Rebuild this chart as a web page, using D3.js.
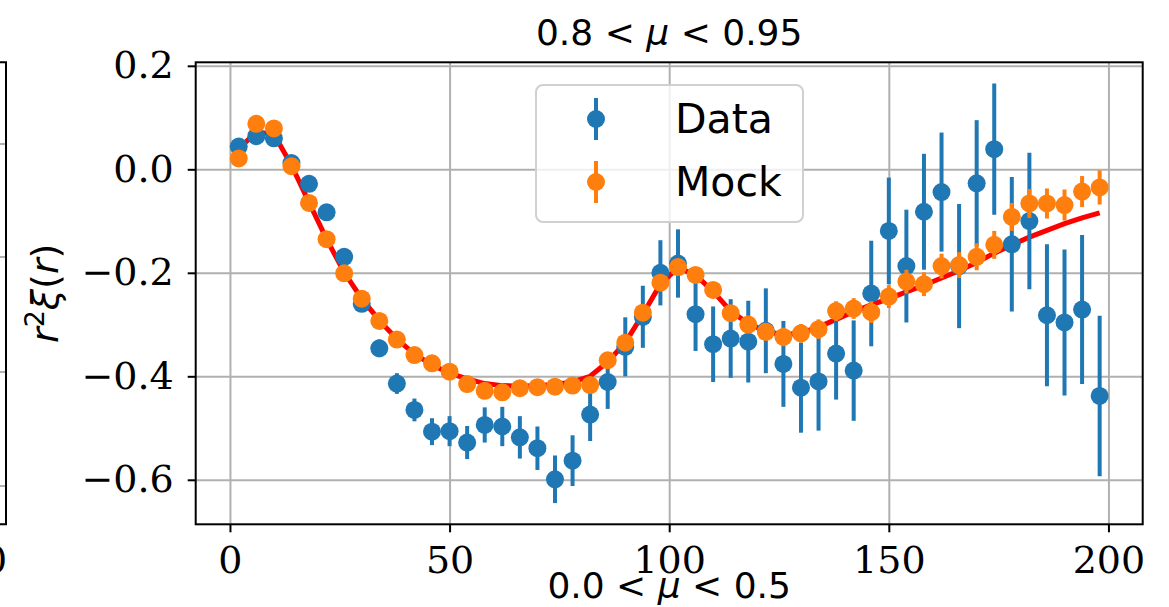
<!DOCTYPE html>
<html>
<head>
<meta charset="utf-8">
<script src="https://cdn.jsdelivr.net/npm/d3@7"></script>
<style>
  body { margin: 0; background: #fff; }
  svg { display: block; }
</style>
</head>
<body>
<svg id="chart" width="1169" height="607"></svg>
<script>
// bin centres r (Mpc/h)
const rBins = [2, 6, 10, 14, 18, 22, 26, 30, 34, 38, 42, 46, 50, 54, 58, 62, 66, 70, 74, 78,
  82, 86, 90, 94, 98, 102, 106, 110, 114, 118, 122, 126, 130, 134, 138, 142, 146, 150, 154, 158,
  162, 166, 170, 174, 178, 182, 186, 190, 194, 198];

const dataY = [0.044, 0.064, 0.060, 0.012, -0.028, -0.083, -0.169, -0.260, -0.346, -0.414,
  -0.465, -0.507, -0.506, -0.528, -0.494, -0.497, -0.518, -0.539, -0.599, -0.563,
  -0.474, -0.411, -0.343, -0.285, -0.200, -0.182, -0.280, -0.338, -0.327, -0.333,
  -0.312, -0.376, -0.422, -0.410, -0.356, -0.389, -0.240, -0.119, -0.187, -0.082,
  -0.044, -0.187, -0.027, 0.039, -0.145, -0.100, -0.282, -0.296, -0.271, -0.438];

const dataErr = [0.008, 0.008, 0.009, 0.010, 0.011, 0.012, 0.013, 0.015, 0.017, 0.020,
  0.022, 0.026, 0.029, 0.032, 0.034, 0.038, 0.041, 0.042, 0.046, 0.049,
  0.051, 0.052, 0.057, 0.060, 0.063, 0.066, 0.071, 0.073, 0.076, 0.079,
  0.082, 0.083, 0.087, 0.095, 0.089, 0.097, 0.102, 0.103, 0.109, 0.112,
  0.115, 0.120, 0.122, 0.127, 0.130, 0.132, 0.137, 0.141, 0.144, 0.155];

const mockY = [0.021, 0.088, 0.079, 0.006, -0.065, -0.135, -0.201, -0.250, -0.293, -0.329,
  -0.359, -0.375, -0.391, -0.415, -0.428, -0.431, -0.423, -0.421, -0.420, -0.418,
  -0.417, -0.369, -0.335, -0.277, -0.219, -0.189, -0.204, -0.233, -0.278, -0.300,
  -0.314, -0.324, -0.317, -0.309, -0.274, -0.269, -0.276, -0.246, -0.217, -0.222,
  -0.187, -0.185, -0.169, -0.146, -0.092, -0.066, -0.066, -0.069, -0.043, -0.035];

const mockErr = [0.002, 0.002, 0.002, 0.002, 0.002, 0.003, 0.003, 0.003, 0.004, 0.004,
  0.005, 0.005, 0.006, 0.007, 0.007, 0.008, 0.008, 0.009, 0.010, 0.010,
  0.011, 0.011, 0.012, 0.012, 0.013, 0.014, 0.015, 0.015, 0.016, 0.017,
  0.017, 0.018, 0.018, 0.019, 0.019, 0.020, 0.021, 0.022, 0.023, 0.023,
  0.024, 0.025, 0.026, 0.027, 0.027, 0.028, 0.029, 0.030, 0.030, 0.033];

const modelY = [0.040, 0.072, 0.068, 0.008, -0.064, -0.135, -0.199, -0.250, -0.292, -0.328,
  -0.357, -0.378, -0.394, -0.405, -0.414, -0.418, -0.419, -0.418, -0.416, -0.411,
  -0.400, -0.372, -0.335, -0.280, -0.222, -0.190, -0.204, -0.236, -0.274, -0.298,
  -0.313, -0.320, -0.316, -0.305, -0.290, -0.275, -0.262, -0.250, -0.237, -0.224,
  -0.210, -0.196, -0.180, -0.162, -0.146, -0.131, -0.118, -0.105, -0.094, -0.084];

const xTicks = [0, 50, 100, 150, 200];
const yTicks = [-0.6, -0.4, -0.2, 0.0, 0.2];
const leftPanelGrid = [144, 257, 372, 486]; // neighbour panel, only its edge is visible

const blue = '#1f77b4', orange = '#ff7f0e';

const svg = d3.select('#chart');

const margin = {left: 195.7, right: 1142.7, top: 62.3, bottom: 524.3};

const x = d3.scaleLinear().domain([-7.8, 207.8]).range([margin.left, margin.right]);
const y = d3.scaleLinear().domain([-0.686, 0.2068]).range([margin.bottom, margin.top]);

const fmtY = d => (d < 0 ? '\u2212' : '') + Math.abs(d).toFixed(1);

// edge of the panel on the left
const leftEdge = svg.append('g');
leftEdge.selectAll('line.g')
  .data(leftPanelGrid)
  .enter().append('line')
  .attr('x1', 0).attr('x2', 6)
  .attr('y1', d => d).attr('y2', d => d)
  .attr('stroke', '#b0b0b0').attr('stroke-width', 2);
leftEdge.append('path')
  .attr('d', `M0,${margin.top}H6V${margin.bottom}H0`)
  .attr('fill', 'none').attr('stroke', '#000').attr('stroke-width', 2);
leftEdge.append('text')
  .attr('x', -29).attr('y', 573)
  .attr('text-anchor', 'middle')
  .style('font-family', 'DejaVu Serif').style('font-size', '38px')
  .text('200');

// grid
svg.append('g')
  .attr('transform', `translate(0,${margin.bottom})`)
  .call(d3.axisBottom(x).tickValues(xTicks).tickSize(-(margin.bottom - margin.top)).tickFormat(''))
  .call(g => g.select('.domain').remove())
  .call(g => g.selectAll('line').attr('stroke', '#b0b0b0').attr('stroke-width', 2));

svg.append('g')
  .attr('transform', `translate(${margin.left},0)`)
  .call(d3.axisLeft(y).tickValues(yTicks).tickSize(-(margin.right - margin.left)).tickFormat(''))
  .call(g => g.select('.domain').remove())
  .call(g => g.selectAll('line').attr('stroke', '#b0b0b0').attr('stroke-width', 2));

// model curve
const line = d3.line()
  .x((d, i) => x(rBins[i]))
  .y(d => y(d));

svg.append('path')
  .datum(modelY)
  .attr('d', line)
  .attr('fill', 'none')
  .attr('stroke', '#ff0000')
  .attr('stroke-width', 5);

function errorbars(vals, errs, color) {
  const g = svg.append('g');
  g.selectAll('line')
    .data(vals)
    .enter().append('line')
    .attr('x1', (d, i) => x(rBins[i]))
    .attr('x2', (d, i) => x(rBins[i]))
    .attr('y1', (d, i) => y(d - errs[i]))
    .attr('y2', (d, i) => y(d + errs[i]))
    .attr('stroke', color)
    .attr('stroke-width', 4);
  g.selectAll('circle')
    .data(vals)
    .enter().append('circle')
    .attr('cx', (d, i) => x(rBins[i]))
    .attr('cy', d => y(d))
    .attr('r', 9)
    .attr('fill', color);
}

errorbars(dataY, dataErr, blue);
errorbars(mockY, mockErr, orange);

// axes
const xAxis = svg.append('g')
  .attr('transform', `translate(0,${margin.bottom})`)
  .call(d3.axisBottom(x).tickValues(xTicks).tickSize(8).tickPadding(14).tickFormat(d3.format('d')));

const yAxis = svg.append('g')
  .attr('transform', `translate(${margin.left},0)`)
  .call(d3.axisLeft(y).tickValues(yTicks).tickSize(8).tickPadding(14).tickFormat(fmtY));

[xAxis, yAxis].forEach(a => {
  a.select('.domain').remove();
  a.selectAll('line').attr('stroke', '#000').attr('stroke-width', 2);
  a.selectAll('text')
    .attr('fill', '#000')
    .style('font-family', 'DejaVu Serif')
    .style('font-size', '38px');
});

svg.append('rect')
  .attr('x', margin.left).attr('y', margin.top)
  .attr('width', margin.right - margin.left)
  .attr('height', margin.bottom - margin.top)
  .attr('fill', 'none').attr('stroke', '#000').attr('stroke-width', 2);

// legend
const legend = svg.append('g');
legend.append('rect')
  .attr('x', 536).attr('y', 85)
  .attr('width', 267).attr('height', 137)
  .attr('rx', 7)
  .attr('fill', 'rgba(255,255,255,0.8)')
  .attr('stroke', '#d0d0d0').attr('stroke-width', 2);

const entries = [
  {label: 'Data', color: blue, cy: 119, base: 133},
  {label: 'Mock', color: orange, cy: 182, base: 196}
];
entries.forEach(e => {
  legend.append('line')
    .attr('x1', 596).attr('x2', 596)
    .attr('y1', e.cy - 21).attr('y2', e.cy + 21)
    .attr('stroke', e.color).attr('stroke-width', 4);
  legend.append('circle')
    .attr('cx', 596).attr('cy', e.cy).attr('r', 9)
    .attr('fill', e.color);
  legend.append('text')
    .attr('x', 675).attr('y', e.base)
    .style('font-family', 'DejaVu Sans').style('font-size', '41px')
    .text(e.label);
});

// titles
function muTitle(yPos, lo, hi) {
  const t = svg.append('text')
    .attr('x', (margin.left + margin.right) / 2)
    .attr('y', yPos)
    .attr('text-anchor', 'middle')
    .style('font-family', 'DejaVu Sans')
    .style('font-size', '36px');
  t.append('tspan').text(lo + ' < ');
  t.append('tspan').style('font-style', 'italic').text('\u03bc');
  t.append('tspan').text(' < ' + hi);
}
muTitle(45, '0.8', '0.95');
muTitle(598, '0.0', '0.5');

// y label
const yl = svg.append('text')
  .attr('transform', `translate(58,${(margin.top + margin.bottom) / 2}) rotate(-90)`)
  .attr('text-anchor', 'middle')
  .style('font-family', 'DejaVu Sans')
  .style('font-size', '38px');
yl.append('tspan').style('font-style', 'italic').text('r');
yl.append('tspan').attr('dy', -14).style('font-size', '27px').text('2');
yl.append('tspan').attr('dy', 14).style('font-style', 'italic').text('\u03be');
yl.append('tspan').text('(');
yl.append('tspan').style('font-style', 'italic').text('r');
yl.append('tspan').text(')');
</script>
</body>
</html>
